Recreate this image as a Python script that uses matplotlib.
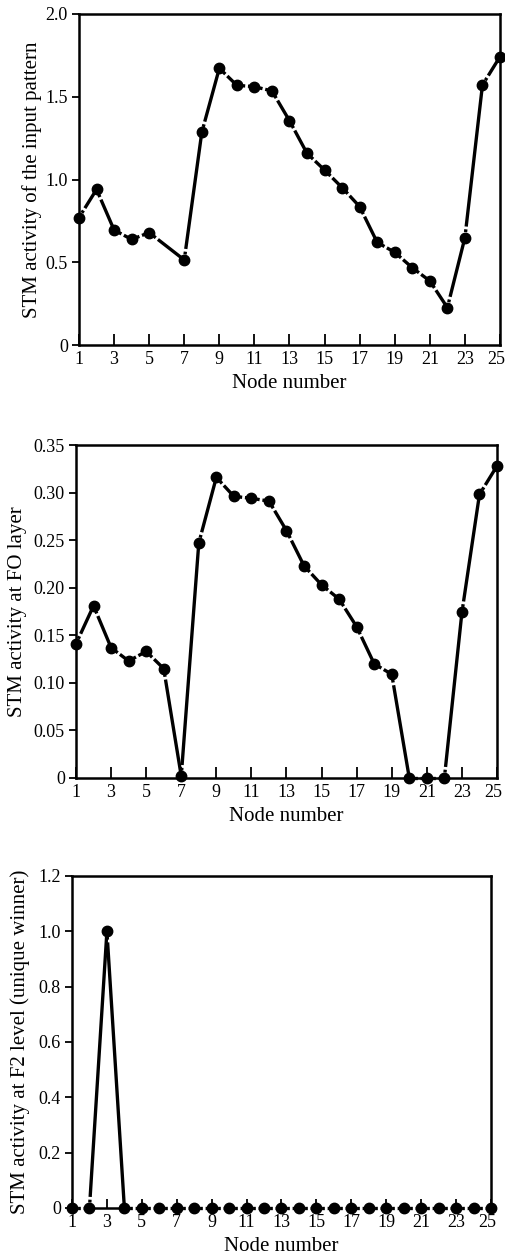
import matplotlib.pyplot as plt
import matplotlib.transforms as mtransforms
import numpy as np

plt.rcParams['font.family'] = ['Liberation Serif', 'DejaVu Serif']
plt.rcParams['font.size'] = 13
plt.rcParams['lines.scale_dashes'] = False

# top panel: node 6 has no point in the source figure
nodes_input = [1, 2, 3, 4, 5, 7, 8, 9, 10, 11, 12, 13, 14, 15, 16, 17, 18, 19, 20, 21, 22, 23, 24, 25]
stm_input = [0.77, 0.94, 0.695, 0.638, 0.679, 0.514, 1.285, 1.672, 1.569, 1.561, 1.535, 1.355,
             1.158, 1.057, 0.951, 0.836, 0.620, 0.560, 0.467, 0.387, 0.226, 0.649, 1.571, 1.742]

nodes_f0 = list(range(1, 26))
stm_f0 = [0.141, 0.181, 0.137, 0.123, 0.133, 0.115, 0.002, 0.247, 0.316, 0.296, 0.294, 0.291,
          0.260, 0.223, 0.203, 0.188, 0.159, 0.120, 0.109, 0.0, 0.0, 0.0, 0.174, 0.298, 0.328]

nodes_f2 = list(range(1, 26))
stm_f2 = [0, 0, 1.0, 0, 0, 0, 0, 0, 0, 0, 0, 0, 0, 0, 0, 0, 0, 0, 0, 0, 0, 0, 0, 0, 0]

xticks = list(range(1, 26, 2))

W, H = 506, 1255
fig = plt.figure(figsize=(W / 100, H / 100), dpi=100)

# each segment: gap at the marker, a dot, a gap, then solid to the next point
seg_style = (1005.0, (2.0, 2.0, 1000.0, 5.0))


def make_axes(left, right, top, bottom):
    return fig.add_axes([left / W, (H - bottom) / H, (right - left) / W, (bottom - top) / H])


def style(ax, xs, ys, ylim, yticks, yticklabels, ylabel, ylab_x, xtick_len):
    for i in range(len(xs) - 1):
        ax.plot(xs[i:i + 2], ys[i:i + 2], color='black', lw=2.4, linestyle=seg_style,
                solid_capstyle='butt', dash_capstyle='butt', clip_on=False, zorder=4)
    ax.plot(xs, ys, color='black', linestyle='none', marker='o', markersize=7.5,
            clip_on=False, zorder=5)
    ax.set_xlim(1, 25)
    ax.set_ylim(*ylim)
    ax.set_xticks(xticks)
    ax.set_xticklabels([str(t) for t in xticks])
    ax.set_yticks(yticks)
    ax.set_yticklabels(yticklabels)
    ax.tick_params(axis='x', direction='in', length=xtick_len, width=1.3, pad=4)
    ax.tick_params(axis='y', direction='out', length=5, width=1.3, pad=3)
    for s in ax.spines.values():
        s.set_linewidth(1.8)
    last = ax.get_xticklabels()[-1]
    last.set_transform(last.get_transform() + mtransforms.ScaledTranslation(-4 / 100, 0, fig.dpi_scale_trans))
    ax.set_ylabel(ylabel, fontsize=15, va='center')
    ax.yaxis.set_label_coords(ylab_x, 0.5)
    ax.set_xlabel("Node number", fontsize=15, va='center')
    ax.xaxis.set_label_coords(0.5, -0.115)


ax1 = make_axes(79, 500, 14, 345)
style(ax1, nodes_input, stm_input, (0, 2.0), [0, 0.5, 1.0, 1.5, 2.0],
      ['0', '0.5', '1.0', '1.5', '2.0'], "STM activity of the input pattern", -0.112, 8)

ax2 = make_axes(76, 497, 445, 778)
yt2 = [0, 0.05, 0.10, 0.15, 0.20, 0.25, 0.30, 0.35]
style(ax2, nodes_f0, stm_f0, (0, 0.35), yt2,
      ['0'] + ['%.2f' % v for v in yt2[1:]], "STM activity at FO layer", -0.138, 8)

ax3 = make_axes(72, 491, 876, 1208)
yt3 = [0, 0.2, 0.4, 0.6, 0.8, 1.0, 1.2]
style(ax3, nodes_f2, stm_f2, (0, 1.2), yt3,
      ['0'] + ['%.1f' % v for v in yt3[1:]], "STM activity at F2 level (unique winner)", -0.124, 6.5)
# only a short stub of the bottom axis line shows under the winning node
ax3.spines['bottom'].set_bounds(2.15, 3.85)

fig.savefig("out.png", dpi=100)
